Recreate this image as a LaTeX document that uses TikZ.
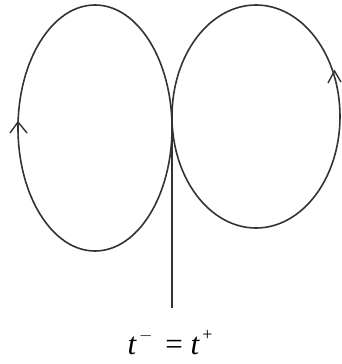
\documentclass[tikz,border=0pt]{standalone}
\usepackage{fontspec}
\setmainfont{Liberation Serif}
\begin{document}
\begin{tikzpicture}[x=1pt,y=-1pt,
  curve/.style={draw=black!80,line width=1.6pt},
  barb/.style={draw=black!80,line width=1.4pt,line join=miter}]
\useasboundingbox (0,0) rectangle (342,364);
% left loop
\draw[curve] (95,128) ellipse [x radius=77, y radius=123];
% right loop
\draw[curve] (256,116.5) ellipse [x radius=84, y radius=111.5];
% vertical line
\coordinate (top) at (172,105);
\coordinate (bot) at (172,308);
\draw[curve] (top) -- (bot);
% direction marks
\draw[barb] (10,133) -- (18,122) -- (27,133);
\draw[barb] (328,83) -- (334.5,71) -- (341,82);
% label
\node (lab) at (170,343) {\fontsize{31}{34}\selectfont\itshape t\raisebox{0.45em}{\fontsize{18}{20}\selectfont\upshape\,$-$}\ \,\upshape=\ \itshape t\raisebox{0.45em}{\fontsize{18}{20}\selectfont\upshape\,+}};
\end{tikzpicture}
\end{document}
